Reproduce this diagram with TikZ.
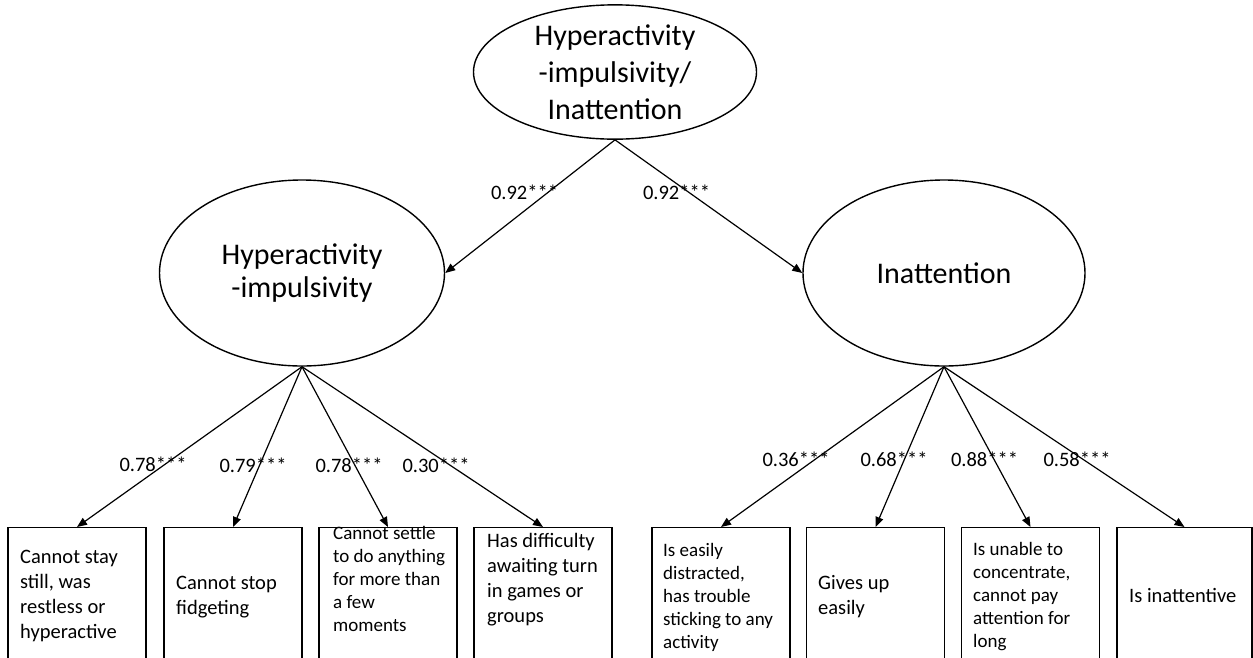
\documentclass[tikz,border=0pt]{standalone}
\usepackage{fontspec}
\setmainfont{Carlito}
\usetikzlibrary{shapes.geometric,arrows.meta}
\begin{document}
\begin{tikzpicture}[x=1pt,y=-1pt,
  lat/.style={ellipse,draw,line width=1.4pt,inner sep=0pt,align=center,font=\fontsize{30}{37}\selectfont},
  ind/.style={rectangle,draw,line width=1.4pt,minimum width=138pt,minimum height=200pt,anchor=north,inner sep=0pt},
  itxt/.style={anchor=base west,align=left,inner sep=0pt,font=\fontsize{20.5}{25}\selectfont},
  itxts/.style={itxt,font=\fontsize{19}{23}\selectfont},
  lbl/.style={inner sep=0pt,font=\fontsize{20.5}{25}\selectfont},
  arr/.style={-{Triangle[length=10pt,width=8pt]},line width=1.2pt}]
\useasboundingbox (0,0) rectangle (1253,657);
\clip (0,0) rectangle (1253,657);

% latent variables
\node[lat,minimum width=283pt,minimum height=130pt] (top) at (615,72) {Hyperactivity\\-impulsivity/\\Inattention};
\node[lat,minimum width=285pt,minimum height=186pt,font=\fontsize{30}{33}\selectfont] (hi) at (302,273) {Hyperactivity\\-impulsivity};
\node[lat,minimum width=282pt,minimum height=186pt] (ia) at (944,273) {Inattention};

% indicator boxes
\node[ind] (b1) at (77,527) {};
\node[ind] (b2) at (233,527) {};
\node[ind] (b3) at (388,527) {};
\node[ind] (b4) at (543,527) {};
\node[ind] (b5) at (721,527) {};
\node[ind] (b6) at (875.5,527) {};
\node[ind] (b7) at (1030.5,527) {};
\node[ind,minimum width=135pt] (b8) at (1184.5,527) {};

% indicator texts (positioned by the baseline of their last line)
\node[itxt]  (t1) at (20,638)   {Cannot stay\\still, was\\restless or\\hyperactive};
\node[itxt]  (t2) at (176,614)  {Cannot stop\\fidgeting};
\node[itxts] (t3) at (333,631)  {Cannot settle\\to do anything\\for more than\\a few\\moments};
\node[itxt]  (t4) at (487,622)  {Has difficulty\\awaiting turn\\in games or\\groups};
\node[itxts] (t5) at (663,648)  {Is easily\\distracted,\\has trouble\\sticking to any\\activity};
\node[itxt]  (t6) at (818,614)  {Gives up\\easily};
\node[itxts] (t7) at (973,647)  {Is unable to\\concentrate,\\cannot pay\\attention for\\long};
\node[itxt]  (t8) at (1129,602) {Is inattentive};

% connectors
\draw[arr] (top.south) -- (hi.east);
\draw[arr] (top.south) -- (ia.west);
\foreach \b in {b1,b2,b3,b4} \draw[arr] (hi.south) -- (\b.north);
\foreach \b in {b5,b6,b7,b8} \draw[arr] (ia.south) -- (\b.north);

% loadings
\node[lbl] (l0a) at (524.5,192.5) {0.92***};
\node[lbl] (l0b) at (676.5,192.5) {0.92***};
\node[lbl] (l1) at (153,464) {0.78***};
\node[lbl] (l2) at (253,465) {0.79***};
\node[lbl] (l3) at (349,465) {0.78***};
\node[lbl] (l4) at (436,465) {0.30***};
\node[lbl] (l5) at (796,459) {0.36***};
\node[lbl] (l6) at (894,459) {0.68***};
\node[lbl] (l7) at (984.5,459) {0.88***};
\node[lbl] (l8) at (1077,459) {0.58***};
\end{tikzpicture}
\end{document}
